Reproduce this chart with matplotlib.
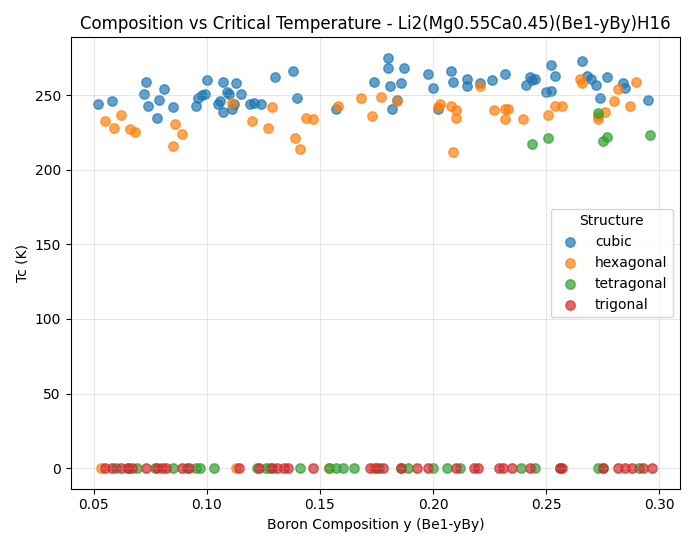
import numpy as np
import matplotlib
matplotlib.use("Agg")
import matplotlib.pyplot as plt

# --- data ---
cubic_x = [0.052,0.058,0.073,0.072,0.074,0.078,0.079,0.081,0.085,0.095,0.096,0.098,0.099,0.100,0.105,0.106,0.107,0.107,0.109,0.110,0.111,0.112,0.113,0.115,0.119,0.121,0.124,0.130,0.138,0.140,0.157,0.174,0.180,0.180,0.181,0.182,0.184,0.186,0.187,0.198,0.200,0.202,0.208,0.209,0.215,0.215,0.221,0.226,0.232,0.241,0.243,0.244,0.245,0.250,0.252,0.252,0.254,0.266,0.268,0.270,0.272,0.274,0.277,0.284,0.285,0.295]
cubic_y = [244,246,259,251,243,235,247,254,242,243,248,250,251,260,244,246,239,259,252,251,241,244,258,251,244,245,244,262,266,248,241,259,275,268,256,241,247,258,268,264,255,241,266,259,261,256,258,260,264,257,262,260,261,252,253,270,263,273,263,261,257,248,262,258,255,247]
hex_x = [0.055,0.059,0.062,0.066,0.068,0.085,0.086,0.089,0.111,0.120,0.127,0.129,0.139,0.141,0.144,0.147,0.158,0.168,0.173,0.177,0.184,0.202,0.203,0.208,0.209,0.210,0.210,0.221,0.227,0.232,0.232,0.233,0.240,0.251,0.254,0.257,0.265,0.266,0.273,0.273,0.276,0.280,0.282,0.287,0.290,
         0.053,0.113,0.154,0.174]
hex_y = [233,228,237,227,225,216,231,224,245,233,228,242,221,214,235,234,243,248,236,249,246,242,244,243,212,240,235,256,240,241,234,241,234,237,243,243,261,258,236,234,239,246,254,243,259,
         0,0,0,0]
tet_x = [0.244,0.251,0.273,0.275,0.277,0.296,
         0.060,0.065,0.069,0.077,0.085,0.091,0.095,0.097,0.103,0.122,0.126,0.128,0.141,0.154,0.157,0.160,0.165,0.176,0.186,0.189,0.200,0.206,0.212,0.239,0.245,0.256,0.273,0.275,0.291]
tet_y = [217,221,238,219,222,223] + [0]*29
tri_x = [0.055,0.058,0.062,0.065,0.067,0.073,0.078,0.080,0.082,0.089,0.092,0.114,0.123,0.129,0.131,0.134,0.136,0.147,0.172,0.175,0.178,0.186,0.193,0.198,0.210,0.218,0.220,0.229,0.231,0.235,0.243,0.256,0.257,0.275,0.282,0.285,0.288,0.293,0.297]
tri_y = [0]*len(tri_x)

series = [("cubic", cubic_x, cubic_y, "#1f77b4"),
          ("hexagonal", hex_x, hex_y, "#ff7f0e"),
          ("tetragonal", tet_x, tet_y, "#2ca02c"),
          ("trigonal", tri_x, tri_y, "#d62728")]

fig, ax = plt.subplots(figsize=(6.95, 5.47), dpi=100)
for name, xs, ys, c in series:
    ax.scatter(xs, ys, s=46, color=c, alpha=0.7, label=name)
ax.set_xlabel("Boron Composition y (Be1-yBy)")
ax.set_ylabel("Tc (K)")
ax.set_title("Composition vs Critical Temperature - Li2(Mg0.55Ca0.45)(Be1-yBy)H16")
ax.legend(title="Structure", loc="center right")
ax.grid(alpha=0.3)
plt.tight_layout()
plt.savefig("out.png", dpi=100)
